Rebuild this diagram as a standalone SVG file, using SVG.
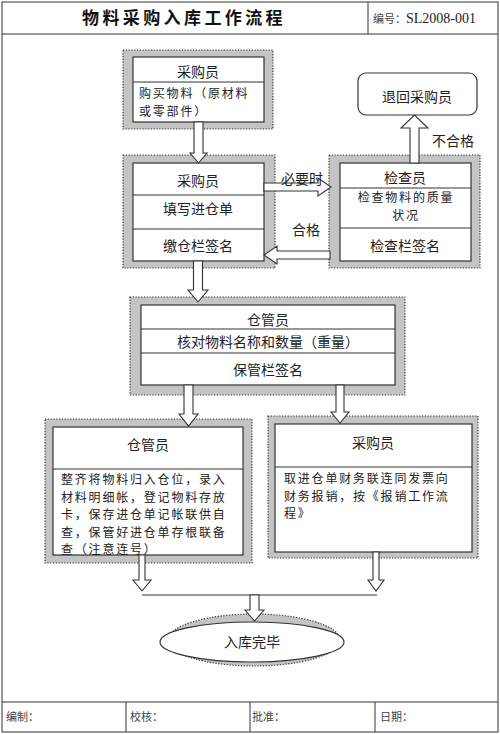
<svg xmlns="http://www.w3.org/2000/svg" width="500" height="734" viewBox="0 0 500 734">
<style>
.t{font-family:"Noto Sans CJK SC","Liberation Serif",serif;font-size:14px;fill:#222}
.m{font-size:12px;letter-spacing:1.8px}
.c{text-anchor:middle}
.sh{fill:#c4c4c4;stroke:#333;stroke-width:1.2;stroke-dasharray:1.2 1.6}
.in{fill:#fff;stroke:#333;stroke-width:1.2}
.ln{stroke:#333;stroke-width:1;fill:none}
.ar{fill:#fff;stroke:#333;stroke-width:1.1}
.sm{font-family:"Noto Sans CJK SC",sans-serif;font-size:11px;fill:#444}
</style>
<rect x="0" y="0" width="500" height="734" fill="#fff"/>
<g id="frame">
<rect x="2" y="2" width="496" height="730" class="ln" stroke-width="1.5"/>
<line x1="2" y1="34" x2="498" y2="34" class="ln"/>
<line x1="368" y1="2" x2="368" y2="34" class="ln"/>
<line x1="2" y1="702" x2="498" y2="702" class="ln"/>
<line x1="126" y1="702" x2="126" y2="732" class="ln"/>
<line x1="250" y1="702" x2="250" y2="732" class="ln"/>
<line x1="375" y1="702" x2="375" y2="732" class="ln"/>
<text x="82" y="24" font-family="Noto Sans CJK SC,sans-serif" font-size="17" font-weight="bold" letter-spacing="3.4" fill="#111">物料采购入库工作流程</text>
<text x="373" y="23" class="sm">编号：</text>
<text x="406" y="23" font-family="Liberation Serif,serif" font-size="14" fill="#222">SL2008-001</text>
<text x="6" y="721" class="sm">编制：</text>
<text x="130" y="721" class="sm">校核：</text>
<text x="252" y="721" class="sm">批准：</text>
<text x="380" y="721" class="sm">日期：</text>
</g>
<g id="node1">
<rect x="123" y="50" width="150" height="79" class="sh"/>
<rect x="133" y="57" width="131" height="65" class="in"/>
<line x1="133" y1="82" x2="264" y2="82" class="ln"/>
<text x="198" y="76.5" class="t c">采购员</text>
<text x="139" y="98" class="t m">购买物料（原材料</text>
<text x="139" y="115.5" class="t m">或零部件）</text>
</g>
<g id="node2">
<rect x="123" y="155" width="152" height="113" class="sh"/>
<rect x="133" y="163" width="131" height="98" class="in"/>
<line x1="133" y1="195" x2="264" y2="195" class="ln"/>
<line x1="133" y1="229" x2="264" y2="229" class="ln"/>
<text x="198" y="186" class="t c">采购员</text>
<text x="198" y="214" class="t c">填写进仓单</text>
<text x="198" y="251" class="t c">缴仓栏签名</text>
</g>
<g id="node3">
<rect x="329" y="155" width="151" height="113" class="sh"/>
<rect x="340" y="163" width="131" height="98" class="in"/>
<line x1="340" y1="188" x2="471" y2="188" class="ln"/>
<line x1="340" y1="228" x2="471" y2="228" class="ln"/>
<text x="405" y="183" class="t c">检查员</text>
<text x="406" y="202" class="t c m">检查物料的质量</text>
<text x="406" y="219.5" class="t c m">状况</text>
<text x="405" y="251" class="t c">检查栏签名</text>
</g>
<g id="node-return">
<rect x="358" y="73" width="119" height="42" rx="8" class="in"/>
<text x="417" y="102" class="t c">退回采购员</text>
</g>
<g id="node4">
<rect x="130" y="297" width="275" height="98" class="sh"/>
<rect x="141" y="305" width="254" height="80" class="in"/>
<line x1="141" y1="329" x2="395" y2="329" class="ln"/>
<line x1="141" y1="353" x2="395" y2="353" class="ln"/>
<text x="268" y="325" class="t c">仓管员</text>
<text x="268" y="346.5" class="t c">核对物料名称和数量（重量）</text>
<text x="268" y="375" class="t c">保管栏签名</text>
</g>
<g id="node5">
<rect x="45" y="419" width="207" height="144" class="sh"/>
<rect x="53" y="427" width="190" height="128" class="in"/>
<line x1="53" y1="469" x2="243" y2="469" class="ln"/>
<text x="148" y="450" class="t c">仓管员</text>
<text x="61" y="484" class="t m">整齐将物料归入仓位，录入</text>
<text x="61" y="501.5" class="t m">材料明细帐，登记物料存放</text>
<text x="61" y="519" class="t m">卡，保存进仓单记帐联供自</text>
<text x="61" y="536.5" class="t m">查，保管好进仓单存根联备</text>
<text x="61" y="554" class="t m">查（注意连号）</text>
</g>
<g id="node6">
<rect x="268" y="416" width="210" height="142" class="sh"/>
<rect x="275" y="424" width="197" height="128" class="in"/>
<line x1="275" y1="467" x2="472" y2="467" class="ln"/>
<text x="373" y="448" class="t c">采购员</text>
<text x="284" y="483" class="t m">取进仓单财务联连同发票向</text>
<text x="284" y="500.5" class="t m">财务报销，按《报销工作流</text>
<text x="284" y="518" class="t m">程》</text>
</g>
<g id="node-end">
<ellipse cx="254" cy="640" rx="86" ry="26" class="sh"/>
<ellipse cx="252" cy="642" rx="92" ry="20" class="in"/>
<text x="252" y="647" class="t c">入库完毕</text>
</g>
<g id="connectors">
<polygon class="ar" points="194,122 203,122 203,153 207,153 198.5,163 190,153 194,153"/>
<polygon class="ar" points="193.5,261 202.5,261 202.5,290 208,290 198,302 188,290 193.5,290"/>
<polygon class="ar" points="184,385 193,385 193,414 198,414 188.5,426 179,414 184,414"/>
<polygon class="ar" points="336,385 344,385 344,412 349,412 340,423 331,412 336,412"/>
<polygon class="ar" points="139,555 145,555 145,580 151,580 142,591 133,580 139,580"/>
<polygon class="ar" points="373,552 379,552 379,580 384,580 376,591 368,580 373,580"/>
<line x1="142" y1="595" x2="377" y2="595" class="ln"/>
<polygon class="ar" points="250,595 259,595 259,610 264,610 254.5,621 245,610 250,610"/>
<polygon class="ar" points="264,183 318,183 318,178 331,187 318,196 318,191 264,191"/>
<polygon class="ar" points="330,251 277,251 277,246 264,255 277,264 277,259 330,259"/>
<polygon class="ar" points="410,163 419,163 419,128 428,128 414.5,115 401,128 410,128"/>
<text x="281" y="184" class="t">必要时</text>
<text x="292" y="235" class="t">合格</text>
<text x="432" y="146" class="t">不合格</text>
</g>
</svg>
